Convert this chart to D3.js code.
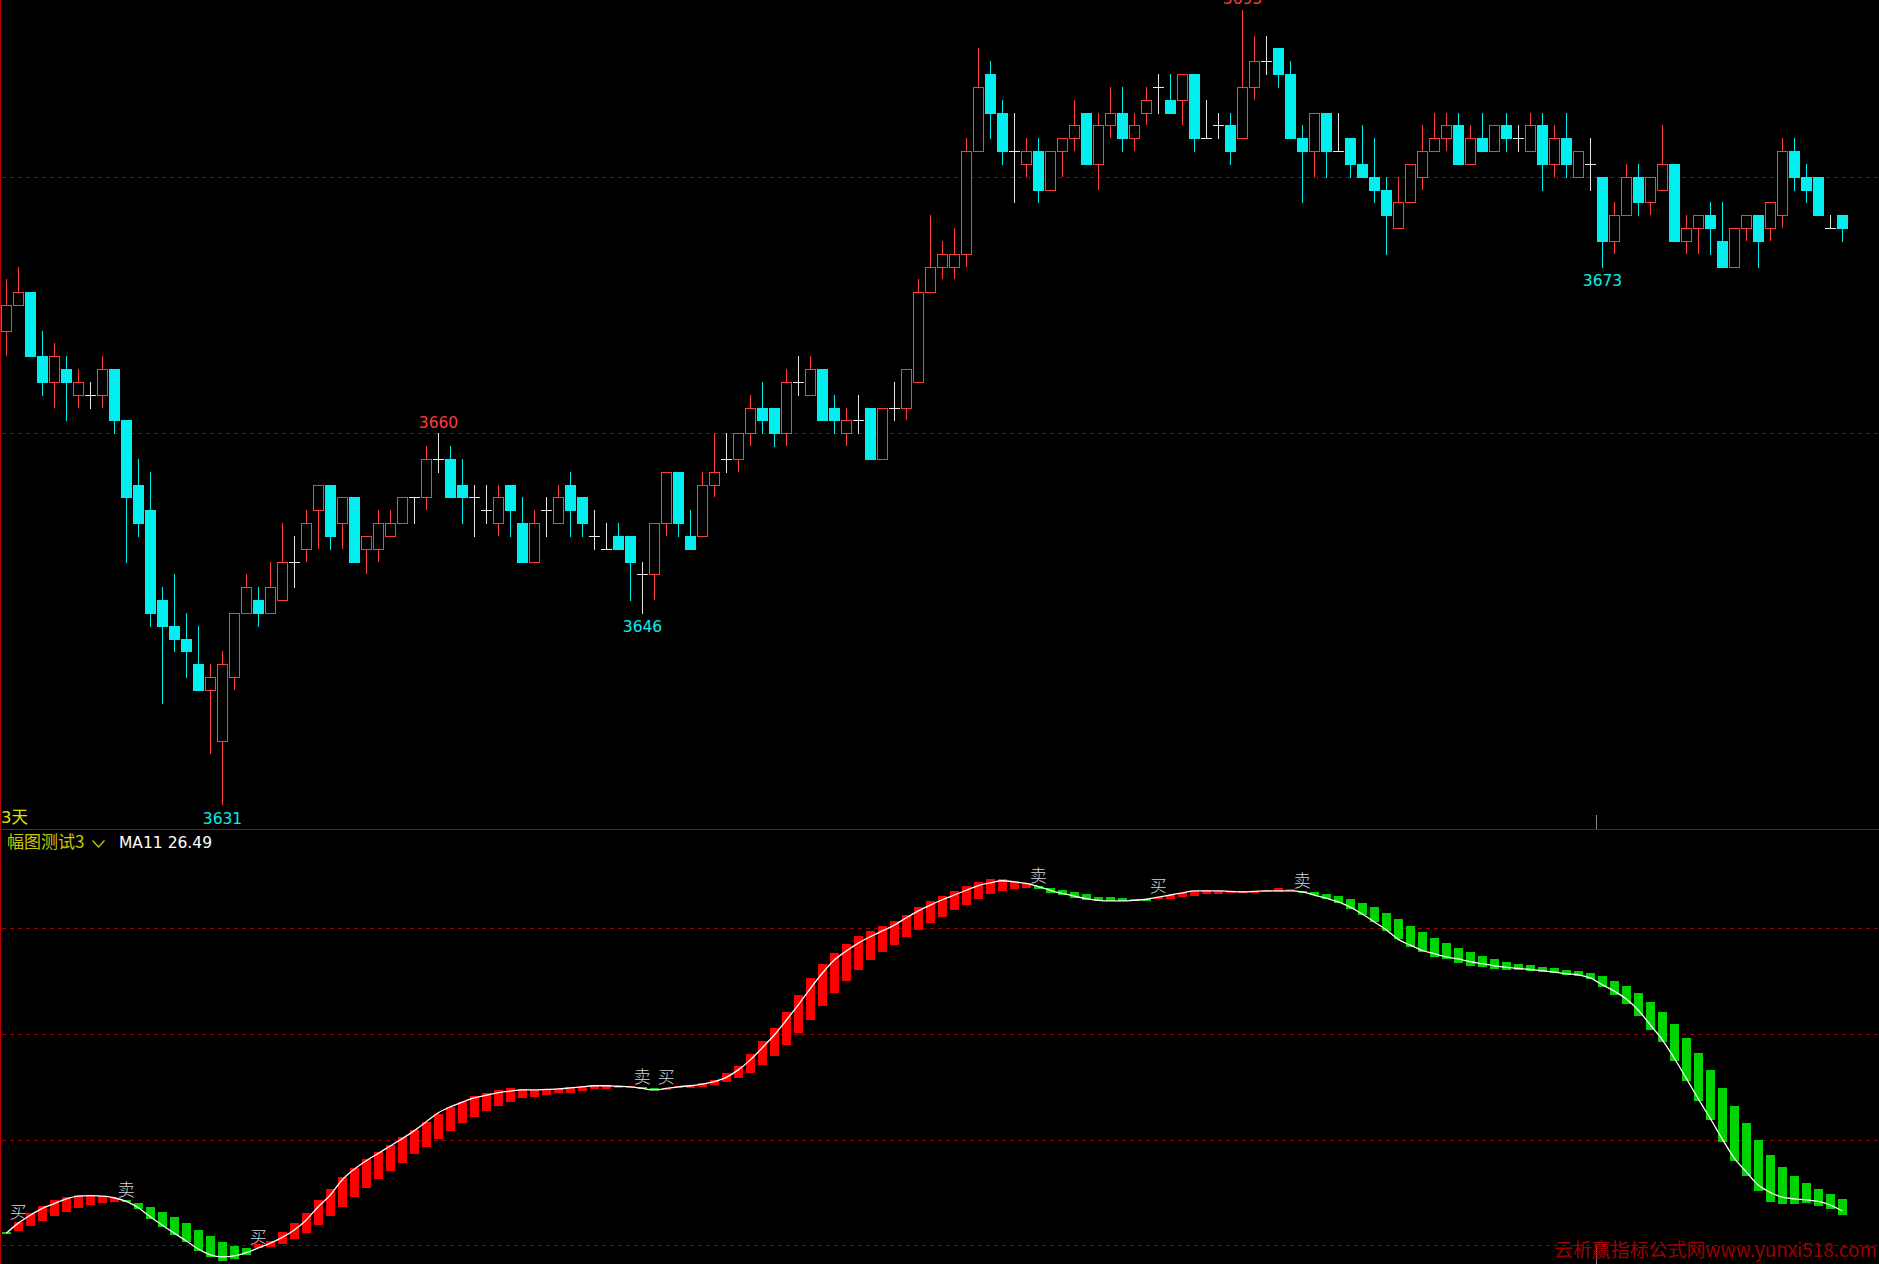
<!DOCTYPE html>
<html><head><meta charset="utf-8">
<script src="https://cdn.jsdelivr.net/npm/d3@7"></script>
<style>html,body{margin:0;padding:0;background:#000;overflow:hidden}svg{display:block}</style>
</head><body><svg id="c" width="1879" height="1264"></svg>
<script>
// ---- price panel data (one candle per bar) ----
const opens=[3668,3670,3671,3666,3664,3665,3663,3663,3663,3665,
3661,3656,3654,3647,3645,3644,3642,3640,3636,3641,
3646,3647,3646,3647,3650,3651,3654,3656,3653,3655,
3651,3651,3652,3653,3655,3655,3658,3658,3656,3655,
3654,3653,3656,3653,3650,3654,3653,3656,3655,3652,
3651,3652,3652,3649,3649,3653,3657,3652,3652,3656,
3658,3658,3660,3662,3662,3660,3664,3663,3665,3662,
3660,3661,3662,3658,3662,3662,3664,3671,3673,3673,
3674,3682,3688,3685,3682,3681,3682,3679,3682,3683,
3685,3681,3684,3685,3683,3685,3687,3686,3686,3688,
3683,3684,3684,3683,3687,3689,3690,3688,3683,3682,
3685,3682,3683,3681,3680,3679,3676,3678,3680,3682,
3683,3684,3681,3683,3682,3684,3683,3682,3684,3681,
3683,3680,3681,3680,3675,3677,3680,3678,3679,3681,
3675,3676,3677,3675,3673,3676,3677,3676,3677,3682,
3680,3680,3676,3677];
const highs=[3672,3673,3671,3668,3667,3666,3665,3664,3666,3665,
3661,3658,3657,3648,3649,3646,3645,3642,3643,3646,
3649,3648,3650,3653,3652,3654,3656,3656,3655,3655,
3652,3654,3654,3655,3655,3659,3660,3659,3658,3656,
3656,3656,3656,3655,3654,3655,3656,3657,3655,3654,
3653,3653,3652,3650,3653,3657,3657,3654,3657,3660,
3660,3660,3663,3664,3662,3665,3666,3666,3665,3663,
3662,3663,3662,3662,3664,3665,3672,3677,3675,3676,
3683,3690,3689,3686,3685,3683,3683,3682,3683,3686,
3685,3685,3687,3687,3685,3687,3688,3688,3688,3688,
3686,3685,3685,3693,3691,3691,3690,3689,3684,3685,
3685,3685,3683,3684,3683,3680,3680,3681,3684,3685,
3685,3685,3684,3685,3684,3685,3684,3685,3685,3684,
3685,3682,3683,3680,3678,3681,3681,3680,3684,3681,
3677,3677,3678,3678,3676,3677,3677,3678,3683,3683,
3681,3680,3677,3677];
const lows=[3666,3670,3666,3663,3662,3661,3662,3662,3662,3660,
3650,3652,3645,3639,3643,3641,3640,3635,3631,3640,
3646,3645,3646,3647,3648,3650,3651,3651,3651,3650,
3649,3650,3652,3653,3653,3654,3657,3655,3653,3652,
3653,3652,3652,3650,3650,3652,3653,3652,3652,3651,
3651,3651,3647,3646,3647,3652,3652,3651,3652,3655,
3657,3657,3659,3660,3659,3659,3663,3663,3661,3660,
3659,3660,3658,3658,3661,3661,3664,3671,3672,3672,
3673,3682,3683,3681,3678,3680,3678,3679,3680,3682,
3681,3679,3683,3682,3682,3684,3685,3685,3684,3682,
3683,3683,3681,3683,3686,3688,3687,3683,3678,3680,
3680,3682,3680,3680,3678,3674,3676,3678,3679,3682,
3682,3681,3681,3682,3682,3682,3682,3682,3679,3680,
3680,3680,3679,3673,3674,3677,3677,3677,3679,3675,
3674,3674,3674,3673,3673,3675,3673,3675,3676,3679,
3678,3677,3676,3675];
const closes=[3670,3671,3666,3664,3666,3664,3664,3663,3665,3661,
3655,3653,3646,3645,3644,3643,3640,3641,3642,3646,
3648,3646,3648,3650,3650,3653,3656,3652,3655,3650,
3652,3653,3653,3655,3655,3658,3658,3655,3655,3655,
3654,3655,3654,3650,3653,3654,3655,3654,3653,3652,
3651,3651,3650,3649,3653,3657,3653,3651,3656,3657,
3658,3660,3662,3661,3660,3664,3664,3665,3661,3661,
3661,3661,3658,3662,3662,3665,3671,3673,3674,3674,
3682,3687,3685,3682,3682,3682,3679,3682,3683,3684,
3681,3684,3685,3683,3684,3686,3687,3685,3688,3683,
3683,3684,3682,3687,3689,3689,3688,3683,3682,3685,
3682,3682,3681,3680,3679,3677,3678,3681,3682,3683,
3684,3681,3683,3682,3684,3683,3683,3684,3681,3683,
3681,3682,3681,3675,3677,3680,3678,3680,3681,3675,
3676,3677,3676,3673,3676,3677,3675,3678,3682,3680,
3679,3677,3676,3676];
const priceGrid=[3660,3680];
const markHigh=[36,103];   // bars whose high is labelled
const markLow=[18,53,133]; // bars whose low is labelled

// ---- indicator panel data ----
const maLine=[22.3,24.2,25.7,27.0,27.9,28.8,29.3,29.4,29.3,29.0,
28.3,27.1,25.4,23.8,22.3,20.8,19.3,18.2,17.8,18.0,
18.6,19.5,20.4,21.5,22.9,24.8,27.3,29.5,32.4,34.4,
36.0,37.4,38.8,40.2,41.7,43.4,45.1,46.2,47.1,47.9,
48.4,48.9,49.2,49.4,49.4,49.5,49.6,49.8,50.0,50.2,
50.2,50.1,50.0,49.7,49.4,49.7,50.0,50.2,50.5,51.0,
51.8,53.2,55.1,57.4,59.8,62.6,65.5,68.6,71.5,74.0,
75.7,77.2,78.4,79.5,80.6,82.0,83.3,84.4,85.4,86.3,
87.2,88.1,88.6,89.0,88.8,88.5,87.9,87.2,86.6,86.1,
85.6,85.3,85.2,85.2,85.3,85.5,85.9,86.3,86.7,87.1,
87.1,87.1,87.0,86.9,87.0,87.1,87.1,87.1,86.9,86.3,
85.7,85.0,84.0,82.7,81.2,79.7,77.9,76.8,75.8,75.2,
74.6,74.2,73.7,73.3,72.9,72.6,72.4,72.2,72.0,71.7,
71.4,71.2,70.6,69.3,68.1,66.6,64.5,61.7,58.9,55.4,
51.6,47.7,44.0,40.1,36.5,33.9,31.4,30.0,29.1,28.8,
28.6,28.3,27.6,26.49];
const barHi=[22.45,24.46,26.17,27.49,28.57,29.07,29.51,29.51,29.32,29.01,
28.57,27.94,27.30,26.30,25.41,24.15,22.89,21.75,20.62,19.86,
19.42,20.24,20.87,22.45,24.15,26.04,28.57,30.59,33.0,34.56,
36.26,37.59,38.98,40.43,41.82,43.27,44.78,46.23,47.18,48.25,
48.76,49.39,49.70,49.52,49.39,49.39,49.58,49.89,50.21,50.34,
50.34,50.21,50.15,50.02,49.77,49.83,50.21,50.27,50.65,51.35,
52.54,53.93,56.20,58.66,61.19,64.15,67.37,70.59,73.24,75.32,
77.03,78.54,79.49,80.43,81.38,82.52,84.03,85.17,86.11,87.06,
88.01,88.76,89.33,89.33,88.95,88.64,88.01,87.56,87.25,86.81,
86.49,85.99,85.86,85.73,85.55,85.48,85.86,86.30,86.74,87.12,
87.19,87.12,87.06,87.06,87.12,87.25,87.56,87.38,87.12,86.93,
86.49,86.11,85.55,84.79,84.03,82.90,81.76,80.43,79.30,78.16,
77.22,76.27,75.51,74.76,74.19,73.62,73.24,73.05,72.74,72.48,
72.11,71.92,71.47,70.97,70.02,69.08,67.75,66.05,64.15,61.88,
59.23,56.39,53.18,49.77,46.36,43.14,39.92,37.08,34.81,33.11,
31.78,30.65,29.70,28.75];
const barLo=[22.07,22.76,23.64,24.59,25.54,26.36,27.11,27.62,28.06,28.25,
28.12,26.80,24.97,23.40,21.94,20.68,18.97,17.84,17.08,17.46,
18.15,19.54,19.73,20.24,21.18,22.26,23.83,25.54,27.30,29.20,
30.90,32.54,34.12,35.63,37.21,38.66,40.11,41.69,43.08,44.34,
45.48,46.42,47.18,47.81,48.13,48.51,48.76,48.88,49.26,49.52,
49.64,49.83,49.77,49.58,49.33,49.52,49.89,49.83,50.02,50.34,
50.90,51.72,52.67,54.12,55.89,57.91,60.24,62.64,65.35,67.81,
70.02,72.17,74.06,75.58,76.84,78.35,79.74,81.0,82.14,83.53,
84.41,85.55,86.55,87.06,87.44,87.69,87.44,86.74,86.24,85.80,
85.29,85.17,85.17,85.17,85.17,85.23,85.48,85.55,85.99,86.18,
86.55,86.55,86.81,86.87,86.87,86.99,86.93,87.06,86.74,86.24,
85.48,84.73,83.72,82.52,81.25,79.49,77.91,76.52,75.58,74.63,
74.25,73.49,72.93,72.61,72.36,72.11,72.04,71.98,71.66,71.47,
71.16,70.91,70.40,68.95,67.44,65.73,63.46,60.75,58.54,54.94,
51.16,47.37,43.77,39.61,36.01,33.17,30.33,28.25,27.75,27.75,
27.94,27.49,26.80,25.79];
const sigIndex=[1,10,21,53,55,86,96,108];
const sigText=["买","卖","买","卖","买","卖","买","卖"];
const indGrid=[20,40,60,80];

// ---- drawing ----
const W=1879,H=1264,SPLIT=829;
const svg=d3.select("#c");
svg.append("rect").attr("width",W).attr("height",H).attr("fill","#000");
const N=opens.length;
const x=d3.scaleLinear().domain([0,N-1]).range([6.3,1842.3]);
const cx=i=>Math.round(x(i));
const yP=d3.scaleLinear().domain([3660,3680]).range([433.3,176.7]);
const yI=d3.scaleLinear().domain([20,80]).range([1245.3,928.3]);
const RED="#ff3c3c",CYAN="#00f0f0",DOJI="#e6e6e6",GRID="#9a0000";
const R=v=>Math.round(v);

// grids
svg.append("g").selectAll("line").data(priceGrid).join("line")
 .attr("x1",2).attr("x2",W).attr("y1",d=>R(yP(d))+0.5).attr("y2",d=>R(yP(d))+0.5)
 .attr("stroke",GRID).attr("stroke-width",1).attr("stroke-dasharray","4,4");
svg.append("g").selectAll("line").data(indGrid).join("line")
 .attr("x1",2).attr("x2",W).attr("y1",d=>R(yI(d))+0.5).attr("y2",d=>R(yI(d))+0.5)
 .attr("stroke",GRID).attr("stroke-width",1).attr("stroke-dasharray","4,4");

// candles
const gC=svg.append("g").attr("shape-rendering","crispEdges");
d3.range(N).forEach(i=>{
  const o=opens[i],c=closes[i],h=highs[i],l=lows[i],X=cx(i);
  const yh=R(yP(h)),yl=R(yP(l));
  if(c>o){
    const yt=R(yP(c)),yb=R(yP(o));
    if(yh<yt) gC.append("line").attr("x1",X+0.5).attr("x2",X+0.5).attr("y1",yh).attr("y2",yt).attr("stroke",RED);
    if(yl>yb) gC.append("line").attr("x1",X+0.5).attr("x2",X+0.5).attr("y1",yb).attr("y2",yl).attr("stroke",RED);
    gC.append("rect").attr("x",X-5+0.5).attr("y",yt+0.5).attr("width",10).attr("height",yb-yt)
      .attr("fill","#000").attr("stroke",RED);
  } else if(c<o){
    const yt=R(yP(o)),yb=R(yP(c));
    gC.append("line").attr("x1",X+0.5).attr("x2",X+0.5).attr("y1",yh).attr("y2",yl+1).attr("stroke",CYAN);
    gC.append("rect").attr("x",X-5).attr("y",yt).attr("width",11).attr("height",yb-yt+1).attr("fill",CYAN);
  } else {
    const yo=R(yP(o));
    gC.append("line").attr("x1",X+0.5).attr("x2",X+0.5).attr("y1",yh).attr("y2",yl+1).attr("stroke",DOJI);
    gC.append("line").attr("x1",X-5).attr("x2",X+6).attr("y1",yo+0.5).attr("y2",yo+0.5).attr("stroke",DOJI);
  }
});

// high / low labels
const lbl=svg.append("g").attr("font-family","'DejaVu Sans',sans-serif").attr("font-size","15.5px").attr("text-anchor","middle");
markHigh.forEach(i=>lbl.append("text").attr("x",cx(i)+0.5).attr("y",yP(highs[i])-5.5).attr("fill",RED).text(highs[i]));
markLow.forEach(i=>lbl.append("text").attr("x",cx(i)+0.5).attr("y",yP(lows[i])+19).attr("fill",CYAN).text(lows[i]));

// borders and markers
svg.append("line").attr("x1",0.5).attr("x2",0.5).attr("y1",0).attr("y2",H).attr("stroke","#b40000");
svg.append("line").attr("x1",0).attr("x2",W).attr("y1",SPLIT+0.5).attr("y2",SPLIT+0.5).attr("stroke","#b40000");
svg.append("line").attr("x1",1596.5).attr("x2",1596.5).attr("y1",815).attr("y2",SPLIT).attr("stroke","#8a8a8a");
svg.append("line").attr("x1",1596.5).attr("x2",1596.5).attr("y1",1246).attr("y2",H).attr("stroke","#8a8a8a");

svg.append("text").attr("x",1).attr("y",823).attr("font-family","'DejaVu Sans','Noto Sans CJK SC',sans-serif")
  .attr("font-size","16.5px").attr("fill","#e0e000").text("3天");

// indicator bars
const dirAt=i=>{let d="G";sigIndex.forEach((s,k)=>{if(i>=s)d=(sigText[k]==="买")?"R":"G";});return d;};
svg.append("g").attr("shape-rendering","crispEdges").selectAll("rect").data(d3.range(N)).join("rect")
 .attr("x",i=>cx(i)-4).attr("width",9)
 .attr("y",i=>R(yI(barHi[i])))
 .attr("height",i=>Math.max(2,R(yI(barLo[i]))-R(yI(barHi[i]))))
 .attr("fill",i=>dirAt(i)==="R"?"#ff0000":"#00d400");

// line
const line=d3.line().x((d,i)=>x(i)).y(d=>yI(d)).curve(d3.curveMonotoneX);
svg.append("path").attr("d",line(maLine)).attr("fill","none").attr("stroke","#ffffff").attr("stroke-width",1.3);

// signals
svg.append("g").attr("font-family","'Noto Sans CJK SC',sans-serif").attr("font-size","17px").attr("font-weight",300)
 .attr("text-anchor","middle").attr("fill","#d4d4d4")
 .selectAll("text").data(sigIndex).join("text")
 .attr("x",i=>x(i)).attr("y",i=>yI(maLine[i])-5).text((d,k)=>sigText[k]);

// header of indicator
svg.append("text").attr("x",7).attr("y",848).attr("font-family","'Noto Sans CJK SC',sans-serif")
  .attr("font-size","17px").attr("fill","#c8c800").text("幅图测试3");
svg.append("path").attr("d","M92.5,840.5 L98.5,847 L104.5,840.5").attr("fill","none").attr("stroke","#c8c800").attr("stroke-width",1.2);
svg.append("text").attr("x",119).attr("y",848).attr("font-family","'DejaVu Sans',sans-serif")
  .attr("font-size","15.5px").attr("fill","#ffffff").text("MA11 "+maLine[N-1].toFixed(2));

// watermark
svg.append("text").attr("x",1877).attr("y",1257).attr("text-anchor","end")
  .attr("font-family","'Noto Sans CJK SC',sans-serif").attr("font-size","19px").attr("fill","#9c0000")
  .attr("textLength",323).attr("lengthAdjust","spacingAndGlyphs").text("云析赢指标公式网www.yunxi518.com");
</script></body></html>
